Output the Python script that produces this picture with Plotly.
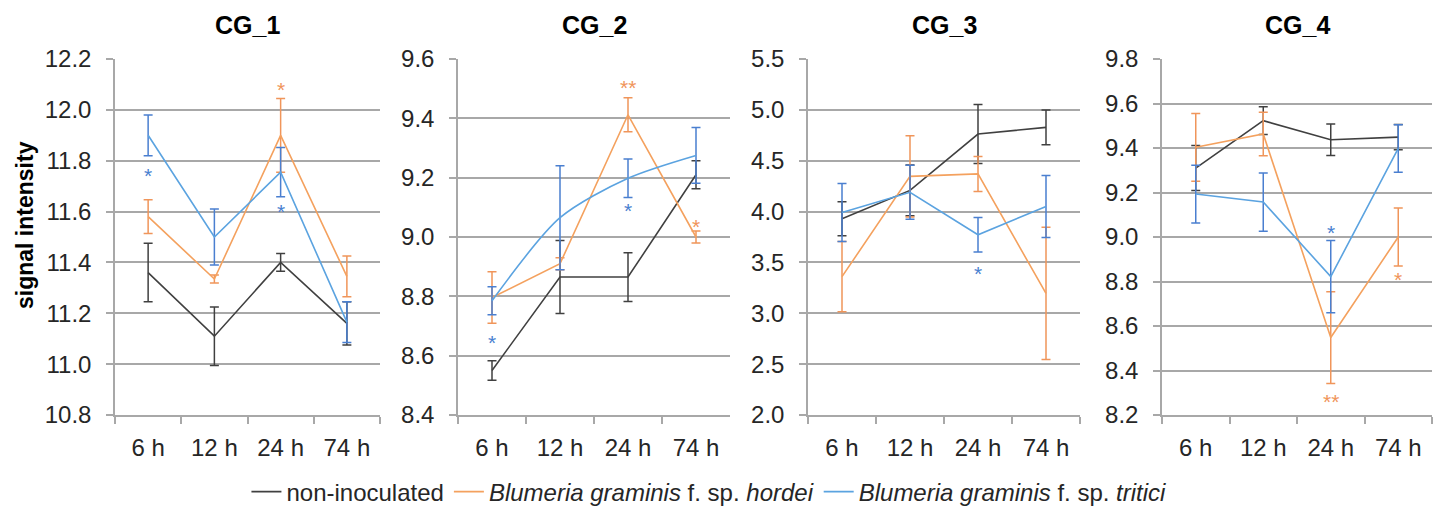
import plotly.graph_objects as go

W, H = 1438, 512

times = ["6 h", "12 h", "24 h", "74 h"]
panels = ["CG_1", "CG_2", "CG_3", "CG_4"]
series_names = ["non-inoculated",
                "<i>Blumeria graminis</i> f. sp. <i>hordei</i>",
                "<i>Blumeria graminis</i> f. sp. <i>tritici</i>"]

# mean values  [non-inoculated, hordei, tritici]
cg1_mean = [[11.36, 11.11, 11.40, 11.16], [11.58, 11.335, 11.90, 11.345], [11.90, 11.50, 11.755, 11.165]]
cg1_err = [[0.115, 0.115, 0.035, 0.085], [0.066, 0.016, 0.145, 0.08], [0.08, 0.11, 0.097, 0.08]]
cg2_mean = [[8.55, 8.865, 8.865, 9.21], [8.796, 8.91, 9.412, 9.0], [8.785, 9.065, 9.198, 9.275]]
cg2_err = [[0.033, 0.123, 0.082, 0.047], [0.087, 0.02, 0.057, 0.02], [0.047, 0.175, 0.065, 0.094]]
cg3_mean = [[3.93, 4.208, 4.762, 4.828], [3.36, 4.346, 4.37, 3.195], [3.99, 4.19, 3.772, 4.05]]
cg3_err = [[0.167, 0.25, 0.29, 0.17], [0.345, 0.4, 0.172, 0.65], [0.285, 0.265, 0.17, 0.305]]
cg4_mean = [[9.31, 9.523, 9.437, 9.449], [9.403, 9.463, 8.548, 9.0], [9.193, 9.157, 8.822, 9.398]]
cg4_err = [[0.101, 0.062, 0.071, 0.057], [0.152, 0.098, 0.206, 0.13], [0.13, 0.131, 0.162, 0.107]]

# significance marks: (panel index, series index, time, y, label)
stars = [
    (0, 2, "6 h", 11.76, "*"), (0, 1, "24 h", 12.10, "*"), (0, 2, "24 h", 11.62, "*"),
    (1, 2, "6 h", 8.662, "*"), (1, 1, "24 h", 9.52, "**"), (1, 2, "24 h", 9.105, "*"), (1, 1, "74 h", 9.052, "*"),
    (2, 2, "24 h", 3.44, "*"),
    (3, 2, "24 h", 9.043, "*"), (3, 1, "24 h", 8.283, "**"), (3, 1, "74 h", 8.83, "*"),
]

y_ranges = [(10.8, 12.2, 0.2), (8.4, 9.6, 0.2), (2.0, 5.5, 0.5), (8.2, 9.8, 0.2)]

means = [cg1_mean, cg2_mean, cg3_mean, cg4_mean]
errs = [cg1_err, cg2_err, cg3_err, cg4_err]

line_colors = ["#404040", "#F4A15E", "#5BA3E0"]
err_colors = ["#404040", "#F0955A", "#4A7FD0"]
star_colors = ["#404040", "#F0955A", "#4A7FD0"]

# layout (pixels)
x_px = [(115, 380), (458, 730), (808, 1080), (1162, 1432)]
y_top, y_bot = 59, 415

FONT = "Liberation Sans, Arial, sans-serif"
grid_col = "#A8A8A8"
TICK_SIZE = 24

fig = go.Figure()
for p in range(4):
    ax = "" if p == 0 else str(p + 1)
    for s in range(3):
        shape = "spline" if (p == 1 and s == 2) else "linear"
        fig.add_trace(go.Scatter(
            x=times, y=means[p][s], mode="lines",
            line=dict(color=line_colors[s], width=1.6, shape=shape, smoothing=0.8),
            error_y=dict(type="data", array=errs[p][s], visible=True,
                         color=err_colors[s], thickness=1.5, width=4.5),
            name=series_names[s], legendgroup=str(s), showlegend=(p == 0),
            xaxis="x" + ax, yaxis="y" + ax,
        ))

layout = dict(
    width=W, height=H, margin=dict(l=0, r=0, t=0, b=0, pad=0, autoexpand=False),
    paper_bgcolor="white", plot_bgcolor="white",
    font=dict(family=FONT, color="#262626"),
    showlegend=True,
    legend=dict(orientation="h", x=0.493, xanchor="center", y=1 - 492 / H, yanchor="middle",
                font=dict(size=24, family=FONT, color="#262626"),
                itemwidth=30, tracegroupgap=0, bgcolor="rgba(0,0,0,0)"),
)

annotations = []
for p in range(4):
    ax = "" if p == 0 else str(p + 1)
    x0, x1 = x_px[p]
    lo, hi, dt = y_ranges[p]
    layout["xaxis" + ax] = dict(
        domain=[x0 / W, x1 / W], anchor="y" + ax, type="category",
        categoryorder="array", categoryarray=times, range=[-0.5, 3.5],
        showline=True, linecolor=grid_col, linewidth=1.5,
        ticks="outside", tickson="boundaries", ticklen=7, tickcolor=grid_col, tickwidth=1.5,
        ticklabelstandoff=10, automargin=False,
        showgrid=False, tickfont=dict(size=TICK_SIZE, family=FONT, color="#262626"),
        fixedrange=True,
    )
    layout["yaxis" + ax] = dict(
        domain=[1 - y_bot / H, 1 - y_top / H], anchor="x" + ax,
        range=[lo, hi + 1e-9], dtick=dt, tick0=lo, tickformat=".1f",
        showline=True, linecolor=grid_col, linewidth=1.5,
        ticks="outside", ticklen=7, tickcolor=grid_col, tickwidth=1.5,
        ticklabelstandoff=10, automargin=False,
        showgrid=True, gridcolor=grid_col, gridwidth=1.5, zeroline=False,
        tickfont=dict(size=TICK_SIZE, family=FONT, color="#262626"),
        fixedrange=True,
    )
    annotations.append(dict(
        text="<b>" + panels[p] + "</b>", x=(x0 + x1) / 2 / W, y=1 - 25 / H,
        xref="paper", yref="paper", showarrow=False, xanchor="center", yanchor="middle",
        font=dict(size=25, family=FONT, color="#000000"),
    ))

for (p, s, t, yv, lab) in stars:
    ax = "" if p == 0 else str(p + 1)
    annotations.append(dict(
        text=lab, x=t, y=yv, xref="x" + ax, yref="y" + ax, showarrow=False,
        xanchor="center", yanchor="middle", yshift=-5,
        font=dict(size=21, family=FONT, color=star_colors[s]),
    ))

annotations.append(dict(
    text="<b>signal intensity</b>", x=25 / W, y=1 - 225 / H, xref="paper", yref="paper",
    showarrow=False, textangle=-90, xanchor="center", yanchor="middle",
    font=dict(size=23, family=FONT, color="#000000"),
))

layout["annotations"] = annotations
fig.update_layout(**layout)
fig.write_html("out.html")
